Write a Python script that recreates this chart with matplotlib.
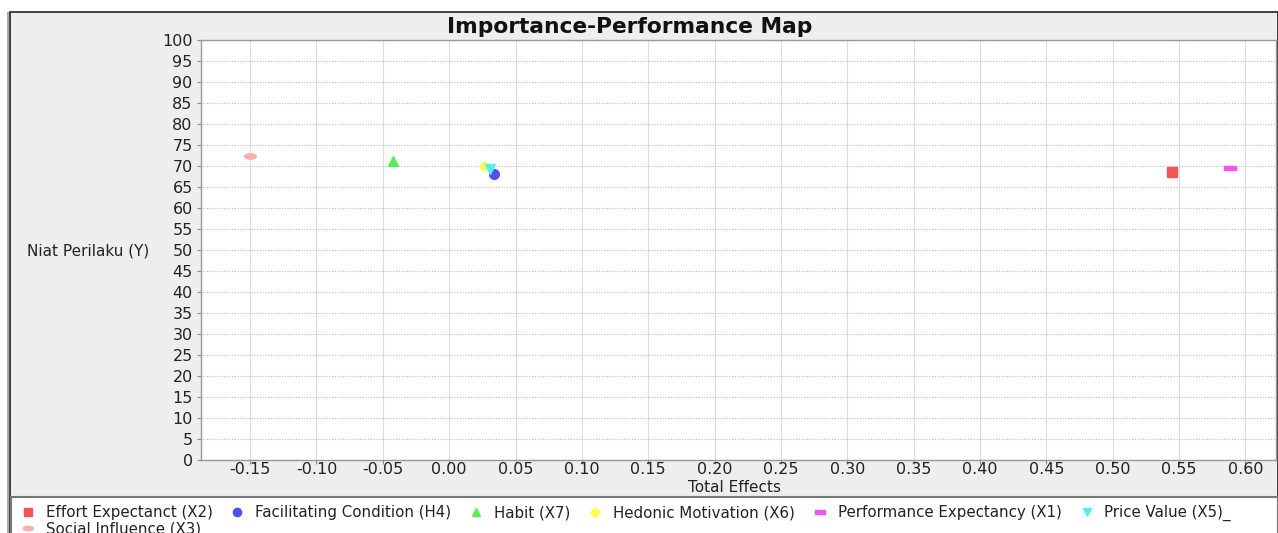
import matplotlib
matplotlib.use("Agg")
import matplotlib.pyplot as plt
from matplotlib.patches import Rectangle
from matplotlib.path import Path
import numpy as np

# ---- data ----
labels = ["Effort Expectanct (X2)", "Facilitating Condition (H4)", "Habit (X7)",
          "Hedonic Motivation (X6)", "Performance Expectancy (X1)", "Price Value (X5)_",
          "Social Influence (X3)"]
total_effects = [0.545, 0.034, -0.042, 0.026, 0.588, 0.031, -0.150]
performance = [68.6, 68.0, 71.3, 70.1, 69.5, 69.4, 72.3]
colors = ["#f25555", "#5050f0", "#55ee55", "#ffff55", "#f055f0", "#55eeee", "#f5afaf"]

x_ticks = [-0.15, -0.10, -0.05, 0.00, 0.05, 0.10, 0.15, 0.20, 0.25, 0.30,
           0.35, 0.40, 0.45, 0.50, 0.55, 0.60]
y_ticks = list(range(0, 101, 5))

# ---- marker shapes (JFreeChart style) ----
hrect = Path([(-1, -0.4), (1, -0.4), (1, 0.4), (-1, 0.4), (-1, -0.4)],
             [Path.MOVETO, Path.LINETO, Path.LINETO, Path.LINETO, Path.CLOSEPOLY])
t = np.linspace(0, 2 * np.pi, 40)
hell = Path(np.column_stack([np.cos(t), 0.45 * np.sin(t)]), closed=True)
markers = ["s", "o", "^", "D", hrect, "v", hell]
msizes = [7.5, 7, 7, 5.5, 8.5, 7, 8.5]

W, H = 1278, 533
fig = plt.figure(figsize=(W / 100, H / 100), dpi=100)
fig.patch.set_facecolor("white")

def fx(px):
    return px / W

def fy(py):
    return 1 - py / H

# gray chart panel with border
fig.patches.append(Rectangle((fx(10), fy(533)), 1 - fx(10), fy(12) - fy(533),
                             transform=fig.transFigure, facecolor="#eeeeee",
                             edgecolor="#222222", linewidth=1.2, zorder=-3))
fig.patches.append(Rectangle((fx(7), fy(533)), fx(1.5), fy(12) - fy(533),
                             transform=fig.transFigure, facecolor="#aaaaaa",
                             edgecolor="none", zorder=-3))
# legend box
fig.patches.append(Rectangle((fx(11), fy(540)), 1 - fx(11), fy(497) - fy(540),
                             transform=fig.transFigure, facecolor="white",
                             edgecolor="#777777", linewidth=1.5, zorder=-2))

ax = fig.add_axes([fx(201), fy(460), fx(1276) - fx(201), fy(40) - fy(460)])
ax.set_zorder(1)
ax.set_facecolor("white")

for xv, yv, c, m, ms, lab in zip(total_effects, performance, colors, markers, msizes, labels):
    ax.plot([xv], [yv], linestyle="none", marker=m, markersize=ms, color=c,
            markeredgecolor=c, label=lab, zorder=3)

ax.set_xlim(-0.187, 0.623)
ax.set_ylim(0, 100)
ax.set_xticks(x_ticks)
ax.set_xticklabels([f"{v:.2f}" for v in x_ticks])
ax.set_yticks(y_ticks)
ax.set_yticklabels([str(v) for v in y_ticks])
ax.tick_params(axis="both", labelsize=11.5, colors="#888888", labelcolor="#222222",
               length=3, width=0.8, pad=3)
ax.tick_params(axis="x", pad=-1.5)

ax.grid(axis="x", color="#dddddd", linestyle="-", linewidth=0.8)
ax.grid(axis="y", color="#bbbbbb", linestyle=(0, (1, 1.5)), linewidth=0.8)
ax.set_axisbelow(True)
for side in ["left", "bottom", "top", "right"]:
    ax.spines[side].set_color("#999999")
    ax.spines[side].set_linewidth(1.0)

fig.text(fx(630), fy(27), "Importance-Performance Map", ha="center", va="center",
         fontsize=15.7, fontweight="bold", color="#111111")
fig.text(fx(88), fy(251), "Niat Perilaku (Y)", ha="center", va="center",
         fontsize=11, color="#222222")
fig.text(fx(735), fy(488), "Total Effects", ha="center", va="center",
         fontsize=11, color="#222222")

# legend: 6 items in first row, Social Influence alone in the second row
handles, labs = ax.get_legend_handles_labels()
order = [0, 6, 1, 2, 3, 4, 5]
leg = fig.legend([handles[i] for i in order], [labs[i] for i in order],
                 loc="upper left", bbox_to_anchor=(fx(20), fy(505)), ncol=6,
                 frameon=False, fontsize=10.8, handlelength=1.0, handletextpad=0.7,
                 columnspacing=1.15, borderaxespad=0, borderpad=0, labelspacing=0.1,
                 markerscale=0.85)
for txt in leg.get_texts():
    txt.set_color("#222222")

fig.savefig("out.png", dpi=100, facecolor=fig.get_facecolor())
